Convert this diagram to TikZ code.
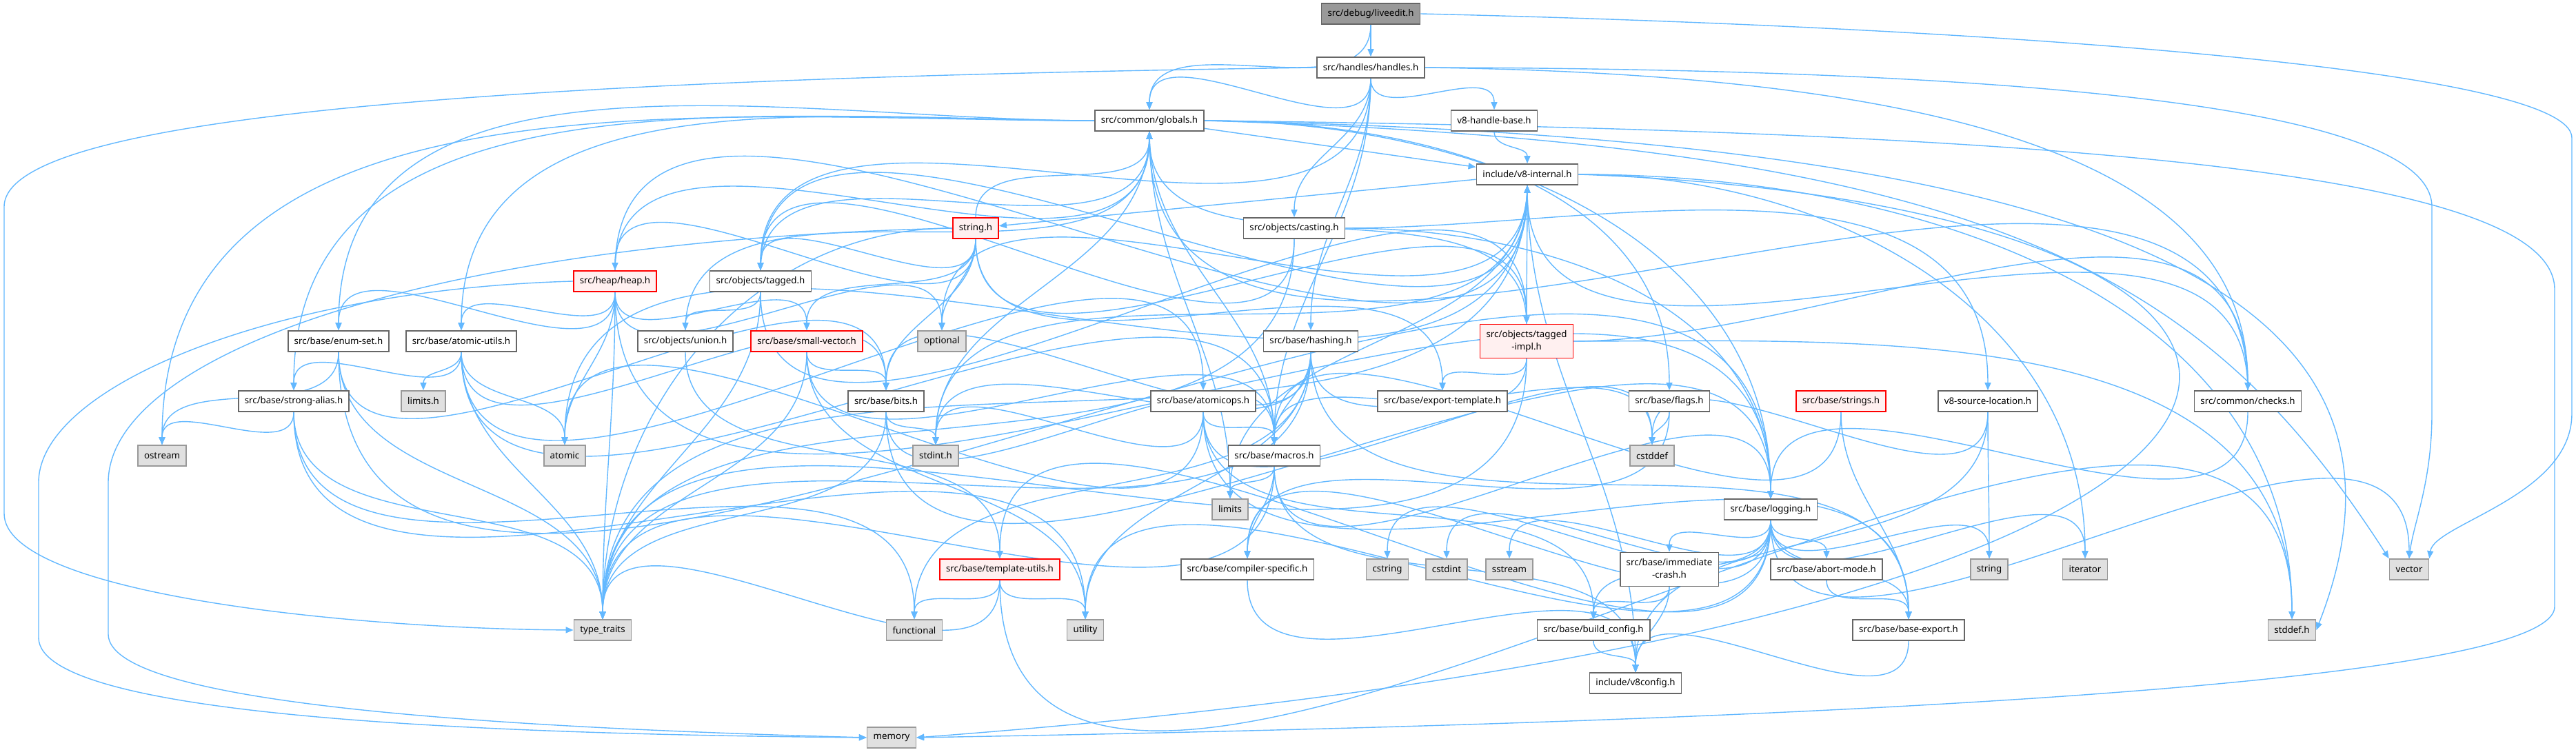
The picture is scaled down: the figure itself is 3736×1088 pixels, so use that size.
\documentclass[tikz,border=0pt]{standalone}
\usepackage{fontspec}
\setmainfont{Noto Sans}
\usetikzlibrary{arrows.meta}
\pgfdeclarelayer{background}
\pgfsetlayers{background,main}
\definecolor{edgeblue}{HTML}{63B8FF}
\definecolor{boxgray}{HTML}{666666}
\definecolor{sysgray}{HTML}{999999}
\definecolor{sysfill}{HTML}{E0E0E0}
\definecolor{truncfill}{HTML}{FFF0F0}
\definecolor{rootfill}{HTML}{999999}
\newcommand\doxfont{\fontsize{2.66}{3.6}\selectfont}
\newcommand\twolines[2]{\begin{tabular}{@{}c@{}}#1\\#2\end{tabular}}
\begin{document}
\begin{tikzpicture}[x=0.2pt, y=-0.2pt,
    box/.style={draw=boxgray, fill=white, line width=0.32pt, minimum height=6pt,
        inner xsep=1.8pt, inner ysep=0.4pt, font=\doxfont},
    sys/.style={box, draw=sysgray, fill=sysfill},
    trunc/.style={box, draw=red, fill=truncfill},
    root/.style={box, fill=rootfill},
    tall/.style={minimum height=9.8pt},
    dep/.style={draw=edgeblue, line width=0.28pt, -{Triangle[length=2.2pt,width=1.8pt]}},
    godown/.style={out=-90, in=90},
    goup/.style={out=90, in=-90},
    toleft/.style={out=180, in=90},
    toright/.style={out=0, in=90}]
    \useasboundingbox (0,0) rectangle (3736,1088);

    % Headers, row by row
    \node[root] (liveedit) at (1988,20) {src/debug/liveedit.h};
    \node[box] (handles) at (1988,98) {src/handles/handles.h};
    \node[box] (globals) at (1667,175) {src/common/globals.h};
    \node[box] (vhandle) at (2167,175) {v8-handle-base.h};
    \node[box] (internal) at (2215,253) {include/v8-internal.h};
    \node[trunc] (stringh) at (1415,331) {string.h};
    \node[box] (casting) at (1877,331) {src/objects/casting.h};
    \node[trunc] (heap) at (892,408) {src/heap/heap.h};
    \node[box] (tagged) at (1103,408) {src/objects/tagged.h};
    \node[box] (enumset) at (491,495) {src/base/enum-set.h};
    \node[box] (atomicutils) at (669,495) {src/base/atomic-utils.h};
    \node[box] (union) at (994,495) {src/objects/union.h};
    \node[trunc] (smallvec) at (1170,495) {src/base/small-vector.h};
    \node[sys] (optional) at (1366,495) {optional};
    \node[box] (hashing) at (1901,495) {src/base/hashing.h};
    \node[trunc, tall] (taggedimpl) at (2214,495) {\twolines{src/objects/tagged}{-impl.h}};
    \node[box] (strongalias) at (426,582) {src/base/strong-alias.h};
    \node[sys] (limitsh) at (614,582) {limits.h};
    \node[box] (bits) at (1285,582) {src/base/bits.h};
    \node[box] (atomicops) at (1745,582) {src/base/atomicops.h};
    \node[box] (exporttemplate) at (2092,582) {src/base/export-template.h};
    \node[box] (flags) at (2421,582) {src/base/flags.h};
    \node[trunc] (strings) at (2670,582) {src/base/strings.h};
    \node[box] (sourceloc) at (2883,582) {v8-source-location.h};
    \node[box] (checks) at (3260,582) {src/common/checks.h};
    \node[sys] (ostream) at (235,661) {ostream};
    \node[sys] (atomic) at (819,661) {atomic};
    \node[sys] (stdint) at (1357,661) {stdint.h};
    \node[box] (macros) at (1848,661) {src/base/macros.h};
    \node[sys] (cstddef) at (2396,661) {cstddef};
    \node[sys] (limits) at (1784,739) {limits};
    \node[box] (logging) at (2568,739) {src/base/logging.h};
    \node[trunc] (templateutils) at (1450,826) {src/base/template-utils.h};
    \node[box] (compiler) at (1809,826) {src/base/compiler-specific.h};
    \node[sys] (cstring) at (2012,826) {cstring};
    \node[sys] (cstdint) at (2098,826) {cstdint};
    \node[sys] (sstream) at (2189,826) {sstream};
    \node[box, tall] (immcrash) at (2421,826) {\twolines{src/base/immediate}{-crash.h}};
    \node[box] (abortmode) at (2649,826) {src/base/abort-mode.h};
    \node[sys] (stringstd) at (2885,826) {string};
    \node[sys] (iterator) at (3024,826) {iterator};
    \node[sys] (vector) at (3494,826) {vector};
    \node[sys] (typetraits) at (874,914) {type\_traits};
    \node[sys] (functional) at (1326,914) {functional};
    \node[sys] (utility) at (1574,914) {utility};
    \node[box] (buildconfig) at (2311,914) {src/base/build\_config.h};
    \node[box] (baseexport) at (2768,914) {src/base/base-export.h};
    \node[sys] (stddef) at (3324,914) {stddef.h};
    \node[box] (v8config) at (2372,991) {include/v8config.h};
    \node[sys] (memory) at (1293,1070) {memory};

    % Bends of the long detours
    \coordinate (lA) at (6,300);
    \coordinate (lA2) at (6,745);
    \coordinate (lB) at (56,700);
    \coordinate (lB2) at (56,925);
    \coordinate (lC) at (157,700);
    \coordinate (lC2) at (157,920);
    \coordinate (rA) at (3730,200);
    \coordinate (rA2) at (3730,600);
    \coordinate (rB) at (3527,300);
    \coordinate (rB2) at (3527,600);
    \coordinate (rC) at (3705,420);
    \coordinate (rC2) at (3705,880);

    \begin{pgfonlayer}{background}
    % liveedit.h
    \draw[dep] (liveedit) to[godown] (handles);
    \draw[dep] (liveedit) to[godown] (globals);
    \draw[dep] (liveedit.east) .. controls (2900,40) and (3730,100) .. (rA) -- (rA2) .. controls (3730,720) and (3530,760) .. (vector.north east);

    % handles.h
    \draw[dep] (handles) to[godown] (globals);
    \draw[dep] (handles) to[godown] (vhandle);
    \draw[dep] (handles) to[godown] (casting);
    \draw[dep] (handles) to[godown] (hashing);
    \draw[dep] (handles) to[godown] (macros);
    \draw[dep] (handles) to[godown] (tagged);
    \draw[dep] (handles.east) .. controls (3000,110) and (3260,300) .. (checks);
    \draw[dep] (handles.west) .. controls (700,115) and (6,170) .. (lA) -- (lA2) .. controls (6,860) and (500,912) .. (typetraits.west);
    \draw[dep] (handles.east) .. controls (2900,100) and (3527,150) .. (rB) -- (rB2) .. controls (3527,700) and (3500,760) .. (vector.north);

    % v8-handle-base.h
    \draw[dep] (vhandle) to[godown] (internal);

    % globals.h
    \draw[dep] (globals) -- (internal);
    \draw[dep] (globals) to[toleft] (enumset);
    \draw[dep] (globals) to[toleft] (atomicutils);
    \draw[dep] (globals) to[toleft] (strongalias);
    \draw[dep] (globals) to[toleft] (ostream);
    \draw[dep] (globals) to[toright] (flags);
    \draw[dep] (globals) to[toright] (logging);
    \draw[dep] (globals) to[godown] (macros);
    \draw[dep] (globals) to[godown] (limits);
    \draw[dep] (globals) to[godown] (stdint);
    \draw[dep] (globals.east) .. controls (2900,210) and (3200,400) .. (vector.north west);
    \draw[dep] (globals.east) .. controls (3000,200) and (3560,400) .. (stddef.east);
    \draw[dep] (globals.east) .. controls (3000,190) and (3705,250) .. (rC) -- (rC2) .. controls (3705,1000) and (2500,1050) .. (memory.east);

    % v8-internal.h
    \draw[dep] (internal) -- (stringh);
    \draw[dep] (internal) to[godown] (optional);
    \draw[dep] (internal) to[godown] (stdint);
    \draw[dep] (internal) to[godown] (v8config);
    \draw[dep] (internal) to[toright] (stddef);
    \draw[dep] (internal) to[toright] (iterator);
    \draw[dep] (internal) to[godown] (limits);
    \draw[dep] (internal) to[godown] (atomic);
    \draw[dep] (internal) to[godown] (typetraits);
    \draw[dep] (internal.east) .. controls (3560,300) and (3600,900) .. (memory.east);

    % casting.h
    \draw[dep] (casting) to[godown] (tagged);
    \draw[dep] (casting) to[toright] (sourceloc);
    \draw[dep] (casting) to[toright] (logging);
    \draw[dep] (casting) to[godown] (typetraits);

    % string.h
    \draw[dep] (stringh) to[goup] (globals);
    \draw[dep] (stringh) to[godown] (heap);
    \draw[dep] (stringh) to[godown] (tagged);
    \draw[dep] (stringh) to[godown] (smallvec);
    \draw[dep] (stringh) to[godown] (optional);
    \draw[dep] (stringh) to[godown] (bits);
    \draw[dep] (stringh) to[godown] (taggedimpl);
    \draw[dep] (stringh) to[godown] (exporttemplate);
    \draw[dep] (stringh) to[toleft] (typetraits);
    \draw[dep] (stringh.west) .. controls (600,350) and (157,520) .. (lC) -- (lC2) .. controls (157,1020) and (700,1055) .. (memory.west);

    % heap.h
    \draw[dep] (heap) to[goup] (globals);
    \draw[dep] (heap) to[goup] (internal);
    \draw[dep] (heap) to[godown] (enumset);
    \draw[dep] (heap) to[godown] (atomicutils);
    \draw[dep] (heap) to[godown] (smallvec);
    \draw[dep] (heap) to[godown] (optional);
    \draw[dep] (heap) to[godown] (atomic);
    \draw[dep] (heap) to[godown] (typetraits);
    \draw[dep] (heap) to[godown] (logging);
    \draw[dep] (heap.west) .. controls (400,420) and (56,560) .. (lB) -- (lB2) .. controls (56,1040) and (700,1065) .. (memory.west);

    % tagged.h
    \draw[dep] (tagged) to[goup] (globals);
    \draw[dep] (tagged) to[goup] (internal);
    \draw[dep] (tagged) to[godown] (union);
    \draw[dep] (tagged) to[godown] (typetraits);
    \draw[dep] (tagged) to[godown] (taggedimpl);

    % union.h
    \draw[dep] (union) to[goup] (globals);
    \draw[dep] (union) to[godown] (templateutils);

    % small-vector.h
    \draw[dep] (smallvec) to[godown] (bits);
    \draw[dep] (smallvec) to[godown] (macros);
    \draw[dep] (smallvec) to[godown] (typetraits);
    \draw[dep] (smallvec) to[godown] (utility);

    % hashing.h
    \draw[dep] (hashing) to[godown] (bits);
    \draw[dep] (hashing) to[godown] (stdint);
    \draw[dep] (hashing) to[godown] (macros);
    \draw[dep] (hashing) to[godown] (functional);
    \draw[dep] (hashing) to[godown] (utility);
    \draw[dep] (hashing) to[godown] (typetraits);
    \draw[dep] (hashing) to[godown] (cstddef);
    \draw[dep] (hashing) to[godown] (baseexport);

    % tagged-impl.h
    \draw[dep] (taggedimpl) to[goup] (internal);
    \draw[dep] (taggedimpl) to[goup] (globals);
    \draw[dep] (taggedimpl) to[godown] (exporttemplate);
    \draw[dep] (taggedimpl) to[godown] (macros);
    \draw[dep] (taggedimpl) to[toright] (checks);
    \draw[dep] (taggedimpl) to[godown] (typetraits);
    \draw[dep] (taggedimpl) to[toright] (stddef);

    % enum-set.h
    \draw[dep] (enumset) to[godown] (bits);
    \draw[dep] (enumset) to[godown] (ostream);
    \draw[dep] (enumset) to[godown] (typetraits);
    \draw[dep] (enumset) to[godown] (logging);

    % atomic-utils.h
    \draw[dep] (atomicutils) to[godown] (strongalias);
    \draw[dep] (atomicutils) to[godown] (limitsh);
    \draw[dep] (atomicutils) to[godown] (atomic);
    \draw[dep] (atomicutils) to[godown] (typetraits);
    \draw[dep] (atomicutils) to[godown] (atomicops);
    \draw[dep] (atomicutils) to[godown] (bits);
    \draw[dep] (atomicutils) to[godown] (macros);

    % strong-alias.h
    \draw[dep] (strongalias) to[godown] (ostream);
    \draw[dep] (strongalias) to[godown] (typetraits);
    \draw[dep] (strongalias) to[godown] (functional);
    \draw[dep] (strongalias) to[godown] (utility);

    % bits.h
    \draw[dep] (bits) to[godown] (stdint);
    \draw[dep] (bits) to[godown] (typetraits);
    \draw[dep] (bits) to[godown] (macros);
    \draw[dep] (bits) to[godown] (logging);

    % atomicops.h
    \draw[dep] (atomicops) to[godown] (stdint);
    \draw[dep] (atomicops) to[godown] (atomic);
    \draw[dep] (atomicops) to[godown] (macros);
    \draw[dep] (atomicops) to[godown] (cstddef);
    \draw[dep] (atomicops) to[godown] (baseexport);
    \draw[dep] (atomicops) to[godown] (buildconfig);

    % flags.h, strings.h, v8-source-location.h, checks.h
    \draw[dep] (flags) to[godown] (cstddef);
    \draw[dep] (flags) to[godown] (compiler);
    \draw[dep] (strings) to[godown] (macros);
    \draw[dep] (strings) to[godown] (baseexport);
    \draw[dep] (sourceloc) to[godown] (cstddef);
    \draw[dep] (sourceloc) to[godown] (stringstd);
    \draw[dep] (sourceloc) to[godown] (v8config);
    \draw[dep] (checks) to[goup] (internal);
    \draw[dep] (checks) to[goup] (globals);
    \draw[dep] (checks) to[godown] (logging);

    % macros.h
    \draw[dep] (macros) to[godown] (limits);
    \draw[dep] (macros) to[godown] (typetraits);
    \draw[dep] (macros) to[godown] (compiler);
    \draw[dep] (macros) to[godown] (logging);
    \draw[dep] (macros) to[godown] (v8config);

    % logging.h
    \draw[dep] (logging) to[godown] (templateutils);
    \draw[dep] (logging) to[godown] (compiler);
    \draw[dep] (logging) to[godown] (cstring);
    \draw[dep] (logging) to[godown] (cstdint);
    \draw[dep] (logging) to[godown] (sstream);
    \draw[dep] (logging) to[godown] (immcrash);
    \draw[dep] (logging) to[godown] (buildconfig);
    \draw[dep] (logging) to[godown] (abortmode);
    \draw[dep] (logging) to[godown] (baseexport);
    \draw[dep] (logging) to[godown] (stringstd);
    \draw[dep] (logging) to[godown] (iterator);
    \draw[dep] (logging) to[godown] (vector);
    \draw[dep] (logging) to[godown] (utility);

    % template-utils.h
    \draw[dep] (templateutils) to[godown] (functional);
    \draw[dep] (templateutils) to[godown] (utility);
    \draw[dep] (templateutils) to[godown] (typetraits);
    \draw[dep] (templateutils) to[godown] (stddef);

    % bottom of the graph
    \draw[dep] (compiler) to[godown] (v8config);
    \draw[dep] (immcrash) to[godown] (buildconfig);
    \draw[dep] (immcrash) to[godown] (v8config);
    \draw[dep] (abortmode) to[godown] (baseexport);
    \draw[dep] (buildconfig) to[godown] (v8config);
    \draw[dep] (baseexport) to[godown] (v8config);
    \end{pgfonlayer}
\end{tikzpicture}
\end{document}
